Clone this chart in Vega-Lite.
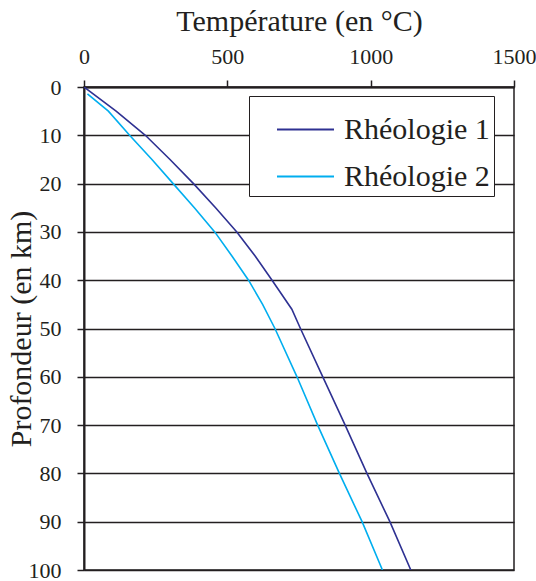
{
  "$schema": "https://vega.github.io/schema/vega-lite/v6.json",
  "autosize": {"type": "none"},
  "width": 430,
  "height": 483,
  "padding": {"left": 84, "top": 87, "right": 22, "bottom": 11},
  "background": "white",
  "config": {
    "font": "Times New Roman, Liberation Serif, serif",
    "axis": {"labelFont": "Times New Roman, Liberation Serif, serif", "titleFont": "Times New Roman, Liberation Serif, serif"},
    "legend": {"labelFont": "Times New Roman, Liberation Serif, serif", "titleFont": "Times New Roman, Liberation Serif, serif"},
    "view": {"stroke": "#231f20", "strokeWidth": 1.5}
  },
  "data": {
    "values": [
      {"serie": "Rhéologie 1", "T": 0, "depth": 0},
      {"serie": "Rhéologie 1", "T": 112, "depth": 5},
      {"serie": "Rhéologie 1", "T": 214, "depth": 10},
      {"serie": "Rhéologie 1", "T": 300, "depth": 15},
      {"serie": "Rhéologie 1", "T": 382, "depth": 20},
      {"serie": "Rhéologie 1", "T": 459, "depth": 25},
      {"serie": "Rhéologie 1", "T": 533, "depth": 30},
      {"serie": "Rhéologie 1", "T": 597, "depth": 35},
      {"serie": "Rhéologie 1", "T": 656, "depth": 40},
      {"serie": "Rhéologie 1", "T": 725, "depth": 46},
      {"serie": "Rhéologie 1", "T": 755, "depth": 50},
      {"serie": "Rhéologie 1", "T": 833, "depth": 60},
      {"serie": "Rhéologie 1", "T": 911, "depth": 70},
      {"serie": "Rhéologie 1", "T": 987, "depth": 80},
      {"serie": "Rhéologie 1", "T": 1067, "depth": 90},
      {"serie": "Rhéologie 1", "T": 1140, "depth": 100},
      {"serie": "Rhéologie 2", "T": 12, "depth": 1.4},
      {"serie": "Rhéologie 2", "T": 85, "depth": 5},
      {"serie": "Rhéologie 2", "T": 159, "depth": 10},
      {"serie": "Rhéologie 2", "T": 237, "depth": 15},
      {"serie": "Rhéologie 2", "T": 311, "depth": 20},
      {"serie": "Rhéologie 2", "T": 385, "depth": 25},
      {"serie": "Rhéologie 2", "T": 456, "depth": 30},
      {"serie": "Rhéologie 2", "T": 516, "depth": 35},
      {"serie": "Rhéologie 2", "T": 574, "depth": 40},
      {"serie": "Rhéologie 2", "T": 623, "depth": 45},
      {"serie": "Rhéologie 2", "T": 666, "depth": 50},
      {"serie": "Rhéologie 2", "T": 743, "depth": 60},
      {"serie": "Rhéologie 2", "T": 815, "depth": 70},
      {"serie": "Rhéologie 2", "T": 891, "depth": 80},
      {"serie": "Rhéologie 2", "T": 970, "depth": 90},
      {"serie": "Rhéologie 2", "T": 1041, "depth": 100}
    ]
  },
  "mark": {"type": "line", "strokeWidth": 1.6, "clip": true},
  "encoding": {
    "x": {
      "field": "T",
      "type": "quantitative",
      "scale": {"domain": [0, 1500], "nice": false, "zero": false},
      "axis": {
        "orient": "top",
        "title": "Température (en °C)",
        "values": [0, 500, 1000, 1500],
        "format": "d",
        "grid": false,
        "domainColor": "#231f20",
        "domainWidth": 2,
        "tickColor": "#231f20",
        "tickWidth": 1.5,
        "tickSize": 7,
        "labelFontSize": 22,
        "labelColor": "#231f20",
        "labelPadding": 12,
        "labelFlush": false,
        "titleFontSize": 30,
        "titleFontWeight": "normal",
        "titleColor": "#231f20",
        "titlePadding": 9
      }
    },
    "y": {
      "field": "depth",
      "type": "quantitative",
      "scale": {"domain": [0, 100], "reverse": true, "nice": false, "zero": false},
      "axis": {
        "orient": "left",
        "title": "Profondeur (en km)",
        "values": [0, 10, 20, 30, 40, 50, 60, 70, 80, 90, 100],
        "format": "d",
        "grid": true,
        "gridColor": "#231f20",
        "gridWidth": 1.6,
        "gridOpacity": 1,
        "domainColor": "#231f20",
        "domainWidth": 2,
        "tickColor": "#231f20",
        "tickWidth": 1.5,
        "tickSize": 7,
        "labelFontSize": 22,
        "labelColor": "#231f20",
        "labelPadding": 16,
        "labelFlush": false,
        "titleFontSize": 30,
        "titleFontWeight": "normal",
        "titleColor": "#231f20",
        "titlePadding": -8
      }
    },
    "color": {
      "field": "serie",
      "type": "nominal",
      "scale": {"domain": ["Rhéologie 1", "Rhéologie 2"], "range": ["#2e3192", "#00aeef"]},
      "legend": {
        "title": null,
        "orient": "none",
        "legendX": 165,
        "legendY": 9,
        "padding": 4,
        "strokeColor": "#231f20",
        "fillColor": "white",
        "symbolType": "stroke",
        "symbolSize": 3249,
        "symbolStrokeWidth": 2,
        "symbolOffset": 23,
        "labelFontSize": 30,
        "labelColor": "#231f20",
        "labelOffset": 9,
        "labelLimit": 300,
        "labelExpr": "datum.label + '\u2002'",
        "rowPadding": 2
      }
    },
    "order": {"field": "depth", "type": "quantitative"}
  }
}
